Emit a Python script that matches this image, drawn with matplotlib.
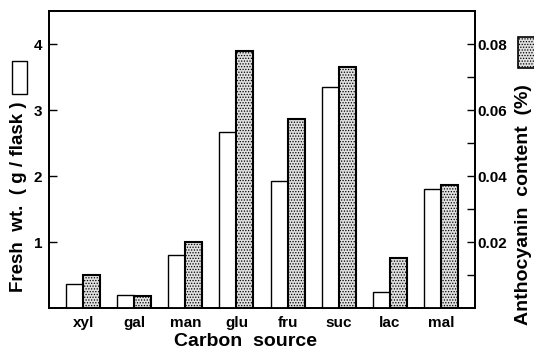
import matplotlib
matplotlib.use("Agg")
import matplotlib.pyplot as plt
from matplotlib.patches import Rectangle
import numpy as np

categories = ["xyl", "gal", "man", "glu", "fru", "suc", "lac", "mal"]
fresh_wt = [0.37, 0.19, 0.80, 2.66, 1.92, 3.35, 0.25, 1.80]
anthocyanin = [0.0099, 0.0037, 0.0201, 0.0779, 0.0573, 0.0731, 0.0151, 0.0373]
left_ticks = [1, 2, 3, 4]
right_ticks = [0.02, 0.04, 0.06, 0.08]
right_minor = [0.01, 0.03, 0.05, 0.07]

plt.rcParams['font.family'] = ['Liberation Sans', 'DejaVu Sans']
plt.rcParams['font.weight'] = 'bold'
plt.rcParams['hatch.color'] = '#8a8a8a'
plt.rcParams['hatch.linewidth'] = 0.6

fig = plt.figure(figsize=(5.34, 3.5), dpi=100)
ax = fig.add_axes([49/534, 42/350, 426/534, 297/350])
ax2 = ax.twinx()

x = np.arange(len(categories))
w = 0.333
ax.bar(x - w/2, fresh_wt, width=w, facecolor='white', edgecolor='black', linewidth=1.0, zorder=3)
ax2.bar(x + w/2, anthocyanin, width=w, facecolor='#e0e0e0', edgecolor='black', linewidth=1.5,
        hatch='......', zorder=3)

ax.set_xlim(-0.67, 7.67)
ax.set_ylim(0, 4.5)
ax2.set_ylim(0, 0.09)

ax.set_xticks(x)
ax.set_xticklabels(categories, fontsize=11, fontweight='bold')
ax.tick_params(axis='x', length=0, pad=6)
ax.set_yticks(left_ticks)
ax.set_yticklabels([str(t) for t in left_ticks], fontsize=11, fontweight='bold')
ax.tick_params(axis='y', direction='in', length=6, width=1.0, pad=5)

ax2.set_yticks(right_ticks)
ax2.set_yticklabels(["%.2f" % t for t in right_ticks], fontsize=11, fontweight='bold')
ax2.set_yticks(right_minor, minor=True)
ax2.tick_params(axis='y', which='both', direction='in', length=6, width=1.0, pad=2)

for a in (ax, ax2):
    for s in a.spines.values():
        s.set_linewidth(1.3)

fig.text(246/534, 1 - 342/350, "Carbon  source", ha='center', va='center',
         fontsize=14, fontweight='bold')
fig.text(19/534, 1 - 197/350, "Fresh  wt.  ( g / flask )", rotation=90, ha='center', va='center',
         fontsize=13.5, fontweight='bold')
fig.text(523/534, 1 - 205/350, "Anthocyanin  content  (%)", rotation=90, ha='center', va='center',
         fontsize=14, fontweight='bold')

fig.patches.append(Rectangle((11.7/534, 1 - 94/350), 15/534, 33.3/350, transform=fig.transFigure,
                             facecolor='white', edgecolor='black', linewidth=1.0))
fig.patches.append(Rectangle((518.3/534, 1 - 68.3/350), 22/534, 31.6/350, transform=fig.transFigure,
                             facecolor='#e0e0e0', edgecolor='black', linewidth=1.2, hatch='......'))

fig.savefig("out.png", dpi=100)
